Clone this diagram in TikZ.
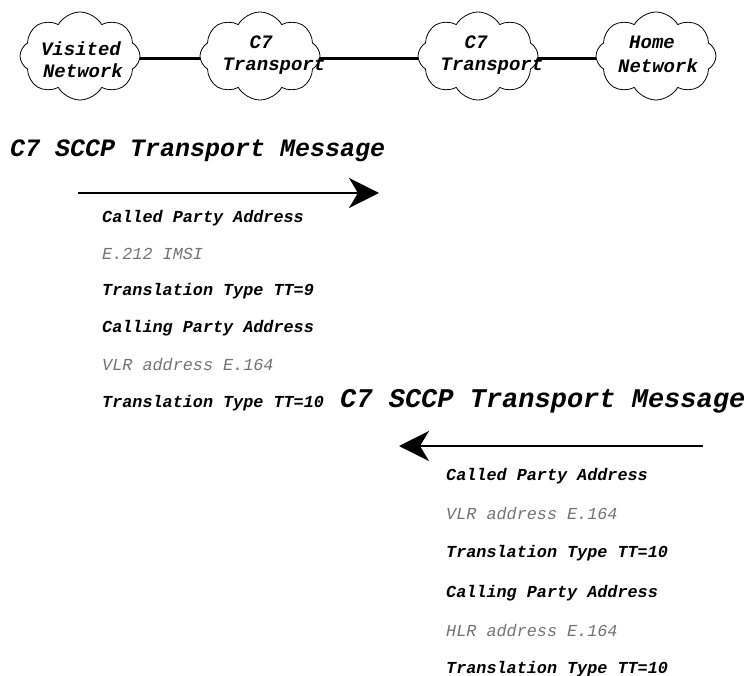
\documentclass[tikz,border=0pt]{standalone}
\usepackage{fontspec}
\setmainfont{Liberation Mono}
\usepackage{tikz}
\usetikzlibrary{arrows.meta,shapes.symbols}
\usetikzlibrary{positioning}
\definecolor{valgray}{RGB}{115,115,115}
\tikzset{
    netcloud/.style={draw=black, cloud, cloud puffs=8, cloud puff arc=120,
        minimum width=120pt, minimum height=88pt, inner sep=0pt, line width=0.8pt},
    cloudtext/.style={font=\fontsize{19}{21}\selectfont\bfseries\itshape, inner sep=0pt},
    link/.style={draw=black, line width=3pt},
    msgarrow/.style={draw=black, line width=2.2pt,
        -{Stealth[length=30pt, width=30pt, inset=9pt]}},
    msgtitle/.style={font=\fontsize{25}{28}\selectfont\bfseries\itshape, anchor=west, inner sep=0pt},
    field/.style={font=\fontsize{16.8}{19}\selectfont\bfseries\itshape, anchor=west, inner sep=0pt},
    value/.style={font=\fontsize{16.8}{19}\selectfont\itshape, text=valgray, anchor=west, inner sep=0pt},
}
\begin{document}
\begin{tikzpicture}[x=1pt, y=-1pt]
	\useasboundingbox (0,0) rectangle (749,676);
	% networks
	\node[netcloud] (visited) at (80,56) {};
	\node[netcloud] (transA) at (260,56) {};
	\node[netcloud] (transB) at (478,56) {};
	\node[netcloud] (home) at (656,56) {};
	\node[cloudtext] at (81,49) {Visited};
	\node[cloudtext] at (83,71) {Network};
	\node[cloudtext] at (261,42) {C7};
	\node[cloudtext] at (274,66) {Transport};
	\node[cloudtext] at (476,42) {C7};
	\node[cloudtext] at (492,66) {Transport};
	\node[cloudtext] at (652,42) {Home};
	\node[cloudtext] at (658,66) {Network};
	\draw[link] (visited.east |- 0,59) -- (transA.west |- 0,59);
	\draw[link] (transA.east |- 0,59) -- (transB.west |- 0,59);
	\draw[link] (transB.east |- 0,59) -- (home.west |- 0,59);
	% forward message
	\node[msgtitle] (titleA) at (10,151) {C7 SCCP Transport Message};
	\coordinate (fwdA) at (78,193);
	\coordinate (fwdB) at (379,193);
	\draw[msgarrow] (fwdA) -- (fwdB);
	\node[field] (calledA) at (102,218) {Called Party Address};
	\node[value] (imsiA) at (102,254) {E.212 IMSI};
	\node[field] (ttA) at (102,291) {Translation Type TT=9};
	\node[field] (callingA) at (102,328) {Calling Party Address};
	\node[value] (vlrA) at (102,365) {VLR address E.164};
	\node[field] (ttB) at (102,403) {Translation Type TT=10};
	% return message
	\node[msgtitle, font=\fontsize{27}{30}\selectfont\bfseries\itshape] (titleB) at (340,401) {C7 SCCP Transport Message};
	\coordinate (bckA) at (703,446);
	\coordinate (bckB) at (399,446);
	\draw[msgarrow] (bckA) -- (bckB);
	\node[field] (calledB) at (446,476) {Called Party Address};
	\node[value] (vlrB) at (446,514) {VLR address E.164};
	\node[field] (ttC) at (446,553) {Translation Type TT=10};
	\node[field] (callingB) at (446,593) {Calling Party Address};
	\node[value] (hlrB) at (446,631) {HLR address E.164};
	\node[field] (ttD) at (446,669) {Translation Type TT=10};
\end{tikzpicture}
\end{document}
